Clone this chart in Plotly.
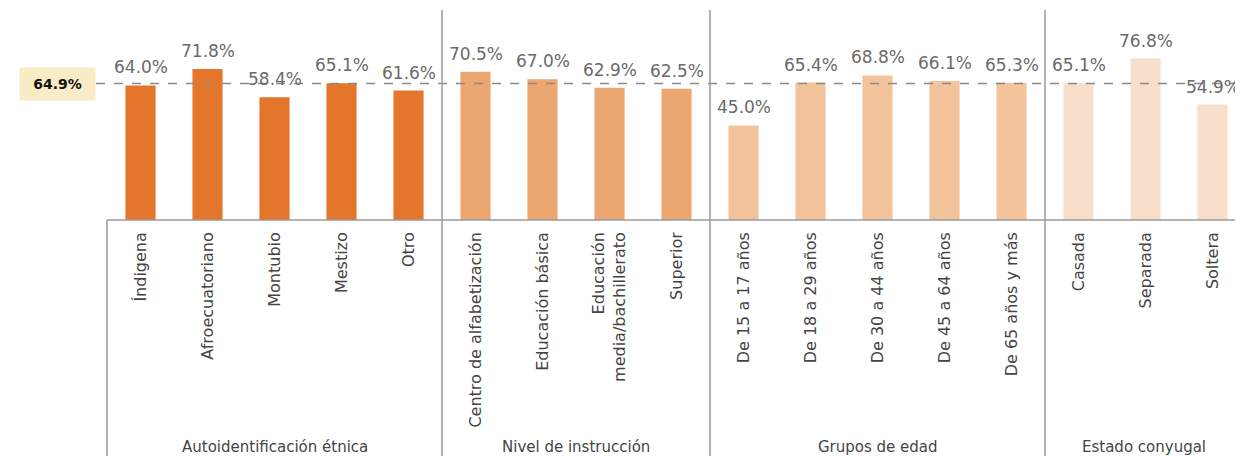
import plotly.graph_objects as go

categories = ["Índigena", "Afroecuatoriano", "Montubio", "Mestizo", "Otro",
              "Centro de alfabetización", "Educación básica", "Educación<br>media/bachillerato", "Superior",
              "De 15 a 17 años", "De 18 a 29 años", "De 30 a 44 años", "De 45 a 64 años", "De 65 años y más",
              "Casada", "Separada", "Soltera"]
values = [64.0, 71.8, 58.4, 65.1, 61.6,
          70.5, 67.0, 62.9, 62.5,
          45.0, 65.4, 68.8, 66.1, 65.3,
          65.1, 76.8, 54.9]
group_names = ["Autoidentificación étnica", "Nivel de instrucción", "Grupos de edad", "Estado conyugal"]
group_sizes = [5, 4, 5, 3]
group_colors = ["#E3762A", "#ECA670", "#F3C49C", "#F8DFCB"]
national_avg = 64.9

FONT = "DejaVu Sans"

colors = []
for c, n in zip(group_colors, group_sizes):
    colors += [c] * n

xs = list(range(len(categories)))

fig = go.Figure()
fig.add_trace(go.Bar(
    x=xs, y=values, width=0.45,
    marker=dict(color=colors, line=dict(width=0)),
    showlegend=False, hoverinfo="skip",
))

line_col = "#9a9a9a"
shapes = []
shapes.append(dict(type="line", xref="paper", yref="y", x0=-0.0097, x1=1, y0=national_avg, y1=national_avg,
                   line=dict(color="#8a8a8a", width=1.5, dash="dash")))
shapes.append(dict(type="line", xref="paper", yref="paper", x0=0, x1=1, y0=0, y1=0,
                   line=dict(color=line_col, width=1.5)))
shapes.append(dict(type="line", xref="paper", yref="paper", x0=0, x1=0, y0=0, y1=-1.12,
                   line=dict(color=line_col, width=1.5)))
annotations = []
# value labels
for x, v in zip(xs, values):
    annotations.append(dict(x=x, y=v, xref="x", yref="y", text=f"{v:.1f}%", showarrow=False,
                            yanchor="middle", xanchor="center", yshift=18,
                            font=dict(family=FONT, size=17, color="#6a6a6a")))
start = 0
for i, (name, n) in enumerate(zip(group_names, group_sizes)):
    end = start + n
    if i < len(group_names) - 1:
        shapes.append(dict(type="line", xref="x", yref="paper", x0=end - 0.5, x1=end - 0.5, y0=0.99, y1=-1.12,
                           line=dict(color=line_col, width=1.5)))
    cx = (start - 0.5 + min(end - 0.5, 16.455)) / 2
    annotations.append(dict(x=cx, y=-1.07, xref="x", yref="paper", text=name, showarrow=False,
                            font=dict(family=FONT, size=15, color="#444444"), yanchor="middle",
                            xanchor="center"))
    start = end

annotations.append(dict(x=-0.044, y=national_avg, xref="paper", yref="y", text="<b>64.9%</b>", showarrow=False,
                        bgcolor="#FAECC6", width=73, height=30, xanchor="center", yanchor="middle",
                        font=dict(family=FONT, size=14, color="#111111")))

fig.update_layout(
    width=1235, height=448,
    margin=dict(l=99, r=0, t=0, b=235.5, pad=0),
    plot_bgcolor="white", paper_bgcolor="white",
    shapes=shapes, annotations=annotations,
    xaxis=dict(range=[-0.5, 16.455], tickvals=xs, ticktext=categories, tickangle=-90,
               showgrid=False, zeroline=False, showline=False, ticks="",
               ticklabelstandoff=8,
               tickfont=dict(family=FONT, size=16, color="#444444")),
    yaxis=dict(range=[0, 100.86], visible=False, showgrid=False, zeroline=False),
)

fig.write_html("out.html")
